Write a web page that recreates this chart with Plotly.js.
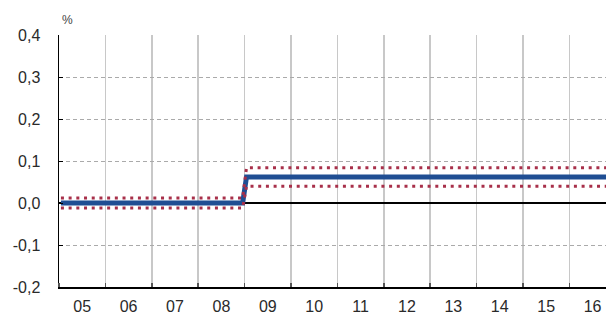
<!DOCTYPE html>
<html>
<head>
<meta charset="utf-8">
<script src="https://cdn.plot.ly/plotly-3.0.1.min.js"></script>
<style>html,body{margin:0;padding:0;background:#fff;}#chart{width:606px;height:315px;}</style>
</head>
<body>
<div id="chart"></div>
<script>
// Category labels (years)
const years = ['05','06','07','08','09','10','11','12','13','14','15','16'];
// Breakpoint dates (YYYY-MM) and series values (%)
const dates = ['2005-01','2008-12','2009-01','2016-12'];
const central = [0.0, 0.0, 0.062, 0.062];
const upper = [0.012, 0.012, 0.084, 0.084];
const lower = [-0.012, -0.012, 0.040, 0.040];
const yTicks = [-0.2, -0.1, 0.0, 0.1, 0.2, 0.3, 0.4];
const yTickText = ['-0,2', '-0,1', '0,0', '0,1', '0,2', '0,3', '0,4'];

// convert month to axis position: category i centred at i, spanning i-0.5..i+0.5
function pos(d) {
  const [y, m] = d.split('-').map(Number);
  return (y - 2005) - 0.5 + (m - 0.5) / 12;
}
const xs = dates.map(pos);

const blue = '#1f4e93';
const red = '#a8304a';

const traces = [
  {x: xs, y: central, mode: 'lines', line: {color: blue, width: 5}, hoverinfo: 'skip'},
  {x: xs, y: upper, mode: 'lines', line: {color: red, width: 3, dash: '3px,4.7px'}, hoverinfo: 'skip'},
  {x: xs, y: lower, mode: 'lines', line: {color: red, width: 3, dash: '3px,4.7px'}, hoverinfo: 'skip'}
];

const font = {family: 'Liberation Sans, Arial, sans-serif', size: 16, color: '#2a2a2a'};

const layout = {
  width: 606, height: 315,
  margin: {l: 59, r: 0, t: 35, b: 28, pad: 0},
  paper_bgcolor: '#fff', plot_bgcolor: '#fff',
  showlegend: false,
  font: font,
  xaxis: {
    range: [-0.5, 11.29],
    tickmode: 'array',
    tickvals: years.map((_, i) => i),
    ticktext: years,
    ticks: '',
    showgrid: false,
    zeroline: false,
    showline: true, linecolor: '#000', linewidth: 1.5,
    ticklabelstandoff: 4,
    tickfont: font,
    minor: {tickmode: 'linear', tick0: -0.5, dtick: 1, showgrid: true, gridcolor: '#c8c8c8', gridwidth: 1.5,
            ticks: 'inside', ticklen: 4, tickcolor: '#555', tickwidth: 1.5},
    fixedrange: true
  },
  yaxis: {
    range: [-0.2, 0.4],
    tickmode: 'array', tickvals: yTicks, ticktext: yTickText,
    ticks: 'inside', ticklen: 4, tickcolor: '#000', tickwidth: 1,
    showline: true, linecolor: '#000', linewidth: 1.5,
    showgrid: true, gridcolor: '#aaaaaa', gridwidth: 1, griddash: '4px,3px',
    zeroline: true, zerolinecolor: '#000', zerolinewidth: 1.2,
    ticklabelstandoff: 14,
    tickfont: font,
    fixedrange: true
  },
  annotations: [
    {text: '%', xref: 'paper', yref: 'paper', x: 0, y: 1, xanchor: 'left', yanchor: 'bottom', xshift: 1, yshift: 6,
     showarrow: false, font: {family: font.family, size: 12, color: '#444'}}
  ]
};

Plotly.newPlot('chart', traces, layout, {staticPlot: true, displayModeBar: false});
</script>
</body>
</html>
